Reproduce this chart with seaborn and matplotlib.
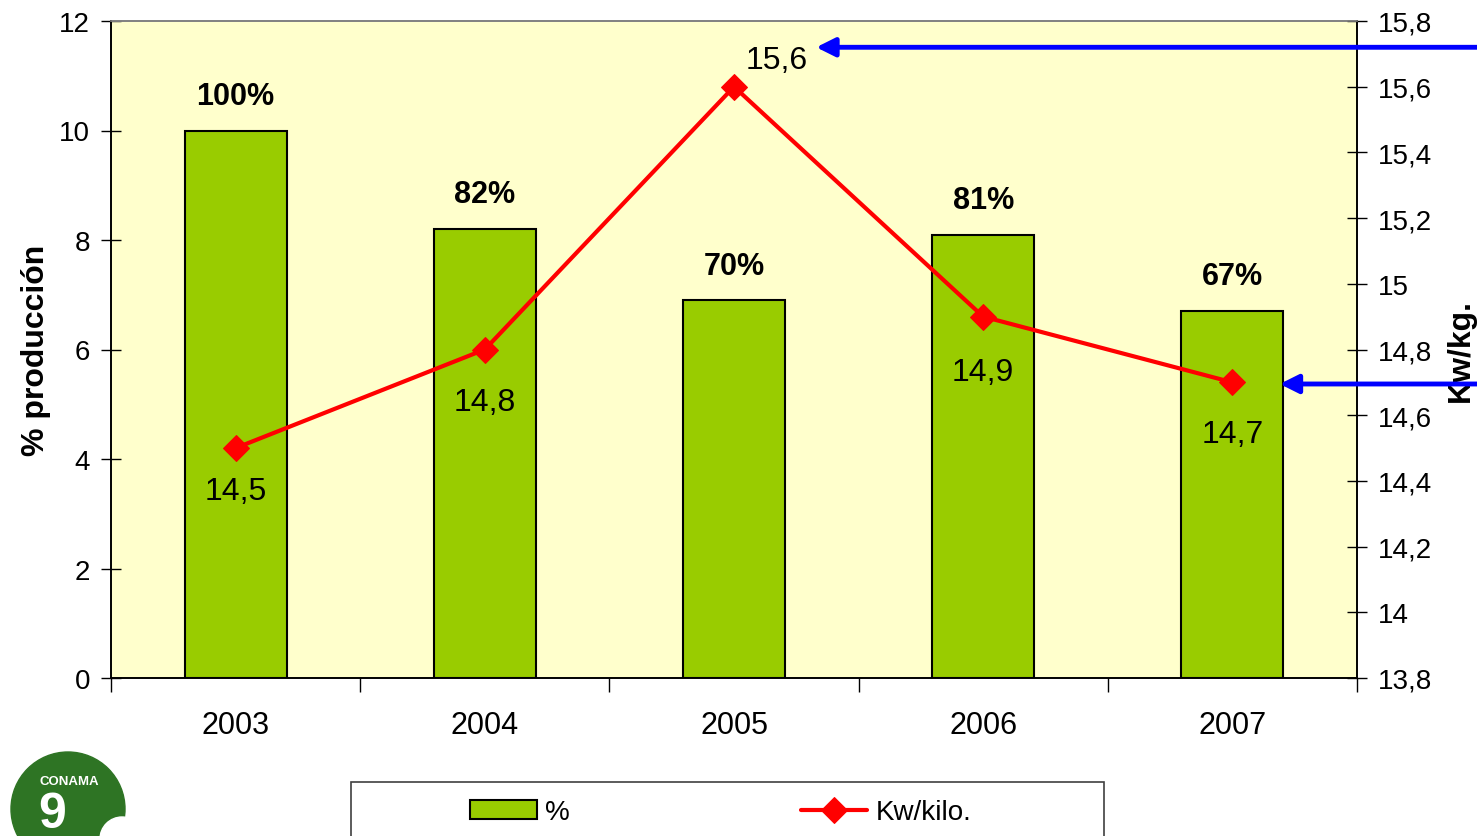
import numpy as np
import pandas as pd
import matplotlib
matplotlib.use("Agg")
import matplotlib.pyplot as plt
import matplotlib.patches as mpatches
import seaborn as sns

# datos
years = ["2003", "2004", "2005", "2006", "2007"]
produccion = [10.0, 8.2, 6.9, 8.1, 6.7]
pct_labels = ["100%", "82%", "70%", "81%", "67%"]
kw_kilo = [14.5, 14.8, 15.6, 14.9, 14.7]
kw_labels = ["14,5", "14,8", "15,6", "14,9", "14,7"]
left_ticks = [0, 2, 4, 6, 8, 10, 12]
right_ticks = [13.8, 14.0, 14.2, 14.4, 14.6, 14.8, 15.0, 15.2, 15.4, 15.6, 15.8]
right_tick_labels = ["13,8", "14", "14,2", "14,4", "14,6", "14,8", "15", "15,2", "15,4", "15,6", "15,8"]

sns.set_theme(style="white")
plt.rcParams['font.family'] = ['Liberation Sans', 'DejaVu Sans']
for k in ["text.color", "axes.labelcolor", "xtick.color", "ytick.color"]:
    plt.rcParams[k] = "black"

df = pd.DataFrame({"year": years, "prod": produccion, "kw": kw_kilo})

fig = plt.figure(figsize=(14.77, 8.37), dpi=100)
ax = fig.add_axes([111 / 1477, 1 - 679 / 837, (1357 - 111) / 1477, (679 - 22) / 837])
ax.set_facecolor("#FFFFCC")

sns.barplot(data=df, x="year", y="prod", ax=ax, color="#99CC00", width=0.41,
            edgecolor="black", linewidth=1.5, saturation=1, label="%")
if ax.get_legend() is not None:
    ax.get_legend().remove()
ax.set_xlim(-0.5, 4.5)
ax.set_ylim(0, 12)
ax.set_yticks(left_ticks)
ax.set_yticklabels([str(t) for t in left_ticks])
ax.set_xlabel("")
ax.set_ylabel("% producción", fontsize=23, fontweight="bold", labelpad=6)

# ticks x en los bordes de categoría
ax.set_xticks(np.arange(len(years)))
ax.set_xticklabels(years)
ax.set_xticks(np.arange(-0.5, len(years), 1), minor=True)
ax.tick_params(axis="x", which="major", length=0, pad=23, labelsize=22)
ax.tick_params(axis="x", which="minor", length=10, width=1, direction="out", color="black", bottom=True)
ax.tick_params(axis="y", length=14, width=1, direction="inout", pad=8, labelsize=20, color="black", left=True)

for i, (v, lab) in enumerate(zip(produccion, pct_labels)):
    ax.annotate(lab, (i, v), xytext=(0, 25), textcoords="offset points",
                ha="center", va="center", fontsize=22, fontweight="bold")

ax2 = ax.twinx()
sns.lineplot(x=np.arange(len(years)), y=kw_kilo, ax=ax2, color="#FF0000", linewidth=3,
             marker="D", markersize=13, markeredgecolor="#FF0000", label="Kw/kilo.", legend=False)
ax2.set_ylim(13.8, 15.8)
ax2.set_yticks(right_ticks)
ax2.set_yticklabels(right_tick_labels)
ax2.tick_params(axis="y", length=14, width=1, direction="inout", pad=8, labelsize=20, color="black", right=True)
ax2.set_ylabel("Kw/kg.", fontsize=23, fontweight="bold", labelpad=10)
ax2.set_xlim(-0.5, 4.5)

offsets = [(0, -31), (0, -38), (31, 19), (0, -40), (0, -37)]
for i, (v, lab, off) in enumerate(zip(kw_kilo, kw_labels, offsets)):
    ax2.annotate(lab, (i, v), xytext=off, textcoords="offset points",
                 ha="center", va="center", fontsize=23)

for a in (ax, ax2):
    for side in ["left", "right", "bottom"]:
        a.spines[side].set_color("black")
        a.spines[side].set_linewidth(1.2)
    a.spines["top"].set_color("#808080")
    a.spines["top"].set_linewidth(1.2)

# flechas azules
for xh, yv in [(2.33, 15.72), (4.19, 14.695)]:
    ax2.annotate("", xy=(xh, yv), xycoords="data", xytext=(1.0, yv),
                 textcoords=("figure fraction", "data"), annotation_clip=False,
                 arrowprops=dict(arrowstyle="-|>", color="#0000FF", lw=3.5, mutation_scale=28,
                                 shrinkA=0, shrinkB=0))

# leyenda (marco aparte, cortado por el borde inferior)
fig.patches.append(mpatches.Rectangle((351 / 1477, -0.02), 753 / 1477, 0.02 + (837 - 783) / 837,
                                      transform=fig.transFigure, fill=False,
                                      edgecolor="#404040", linewidth=1.2))
h1, l1 = ax.get_legend_handles_labels()
h2, l2 = ax2.get_legend_handles_labels()
leg = fig.legend(h1 + h2, l1 + l2, loc="upper left", ncol=2,
                 bbox_to_anchor=(451 / 1477, 1 - 781 / 837),
                 fontsize=20, frameon=False, borderpad=0.2,
                 handlelength=2.4, handletextpad=0.3, columnspacing=8.3)

# logo CONAMA
fig.patches.append(mpatches.Ellipse((68 / 1477, 1 - 810 / 837), 114 / 1477, 114 / 837,
                                    transform=fig.transFigure, color="#2E7424", zorder=5))
fig.patches.append(mpatches.Ellipse((122 / 1477, 1 - 840 / 837), 44 / 1477, 44 / 837,
                                    transform=fig.transFigure, color="white", zorder=6))
fig.text(69 / 1477, 1 - 782 / 837, "CONAMA", color="white", fontsize=9.5, fontweight="bold",
         ha="center", va="center", zorder=7)
fig.text(52 / 1477, 1 - 815 / 837, "9", color="white", fontsize=36, fontweight="bold",
         ha="center", va="center", zorder=7)

fig.savefig("out.png", dpi=100)
